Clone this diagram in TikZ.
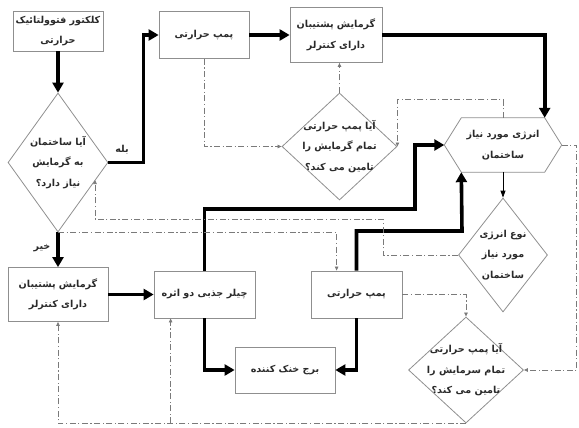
\documentclass[tikz,border=0pt]{standalone}
\usepackage{fontspec}
\newfontfamily\arabicfont[Script=Arabic]{DejaVu Sans}
\TeXXeTstate=1
\usetikzlibrary{arrows.meta,shapes.geometric,calc}
\newcommand{\fsz}{\arabicfont\bfseries\fontsize{9.6}{20.5}\selectfont}
\definecolor{boxgray}{HTML}{8F8F8F}
\definecolor{linegray}{HTML}{7A7A7A}
\definecolor{txtc}{HTML}{2A2A2A}
\tikzset{
  box/.style={draw=boxgray, line width=0.8pt, inner sep=0pt, align=center, font=\fsz, text=txtc},
  dec/.style={diamond, draw=boxgray, line width=0.8pt, inner sep=0pt},
  txt/.style={align=center, font=\fsz, text=txtc, inner sep=0pt},
  flow/.style={line width=3.6pt, -{Triangle[length=10pt,width=11pt]}},
  thinarrow/.style={line width=0.8pt, -{Triangle[length=7pt,width=5pt]}},
  ctrl/.style={draw=linegray, line width=0.7pt, dash pattern=on 6pt off 2.5pt on 1.2pt off 2.5pt, -{Triangle[length=4pt,width=3.5pt]}},
}
\begin{document}
\begin{tikzpicture}[x=1pt,y=-1pt]
\useasboundingbox (0,0) rectangle (579,428);
% boxes
\node[box, minimum width=90pt, minimum height=40pt] (col) at (58,31) {\beginR کلکتور فتوولتائیک\endR\\\beginR حرارتی\endR};
\node[box, minimum width=90pt, minimum height=47pt] (hp1) at (204,35) {\beginR پمپ حرارتی\endR};
\node[box, minimum width=92pt, minimum height=55pt] (bk1) at (336,35) {\beginR گرمایش پشتیبان\endR\\\beginR دارای کنترلر\endR};
\node[box, minimum width=100pt, minimum height=54pt] (bk2) at (58,294.5) {\beginR گرمایش پشتیبان\endR\\\beginR دارای کنترلر\endR};
\node[box, minimum width=101pt, minimum height=47pt] (ch) at (204.5,294.5) {\beginR چیلر جذبی دو اثره\endR};
\node[box, minimum width=91pt, minimum height=47pt] (hp2) at (356.5,294.5) {\beginR پمپ حرارتی\endR};
\node[box, minimum width=100pt, minimum height=46pt] (ct) at (285,370) {\beginR برج خنک کننده\endR};
% decisions
\node[dec, minimum width=100pt, minimum height=139pt, label={[txt]center:{\beginR آیا ساختمان\endR\\\beginR به گرمایش\endR\\\beginR نیاز دارد؟\endR}}] (d1) at (58,162.5) {};
\node[dec, minimum width=115pt, minimum height=107pt, label={[txt]center:{\beginR آیا پمپ حرارتی\endR\\\beginR تمام گرمایش را\endR\\\beginR تامین می کند؟\endR}}] (d2) at (339.5,146.5) {};
\node[dec, minimum width=89pt, minimum height=114pt, label={[txt]center:{\beginR نوع انرژی\endR\\\beginR مورد نیاز\endR\\\beginR ساختمان\endR}}] (d3) at (503,255) {};
\node[dec, minimum width=115pt, minimum height=106pt, label={[txt]center:{\beginR آیا پمپ حرارتی\endR\\\beginR تمام سرمایش را\endR\\\beginR تامین می کند؟\endR}}] (d4) at (466,370) {};
% hexagon
\node[txt, minimum width=117pt, minimum height=54pt] (hex) at (503,145) {\beginR انرژی مورد نیاز\endR\\\beginR ساختمان\endR};
\coordinate (hexNE) at ($(hex.north east)+(-17,0)$);
\coordinate (hexNW) at ($(hex.north west)+(17,0)$);
\coordinate (hexSE) at ($(hex.south east)+(-17,0)$);
\coordinate (hexSW) at ($(hex.south west)+(17,0)$);
\draw[boxgray, line width=0.8pt] (hex.west) -- (hexNW) -- (hexNE) -- (hex.east) -- (hexSE) -- (hexSW) -- cycle;
% labels
\node[txt] (yes) at (122,150) {\beginR بله\endR};
\node[txt] (no) at (42,248) {\beginR خیر\endR};
% helper coordinates
\coordinate (j1) at (415,209);
\coordinate (j2) at (462,231);
\coordinate (k1) at (383,219);
\coordinate (k2) at (95,180);
\coordinate (k3) at ($(hp2.north west)+(26,0)$);
\coordinate (k4) at ($(ch.south west)+(17,0)$);
% thick flows
\draw[flow] (col.south) -- (d1.north);
\draw[flow] (d1.east) -- ++(35,0) |- (hp1.west);
\draw[flow] (hp1.east) -- (bk1.west);
\draw[flow] (bk1.east) -| (hexNE);
\draw[flow] (d1.south) -- (bk2.north);
\draw[flow] (bk2.east) -- (ch.west);
\draw[flow] (ch.north) |- (j1) |- (hex.west);
\draw[flow] (hp2.north) |- (j2) -- (hexSW);
\draw[flow] (ch.south) |- (ct.west);
\draw[flow] (hp2.south) |- (ct.east);
\draw[thinarrow] (hex.south) -- (d3.north);
% control lines
\draw[ctrl] (hp1.south) |- (d2.west);
\draw[ctrl] (d2.north) -- (d2.north |- bk1.south);
\draw[ctrl] (hex.north) -- ++(0,-18) -| (d2.east);
\draw[ctrl] (hex.east) -- ++(15,0) |- (d4.east);
\draw[ctrl] (d3.west) -| (k1) -| (k2);
\draw[ctrl] (d1.south) -| (k3);
\draw[ctrl] (hp2.east) -| (d4.north);
\draw[ctrl] (d4.south) -| (bk2.south);
\draw[ctrl] (d4.south -| k4) -- (k4);
\end{tikzpicture}
\end{document}
